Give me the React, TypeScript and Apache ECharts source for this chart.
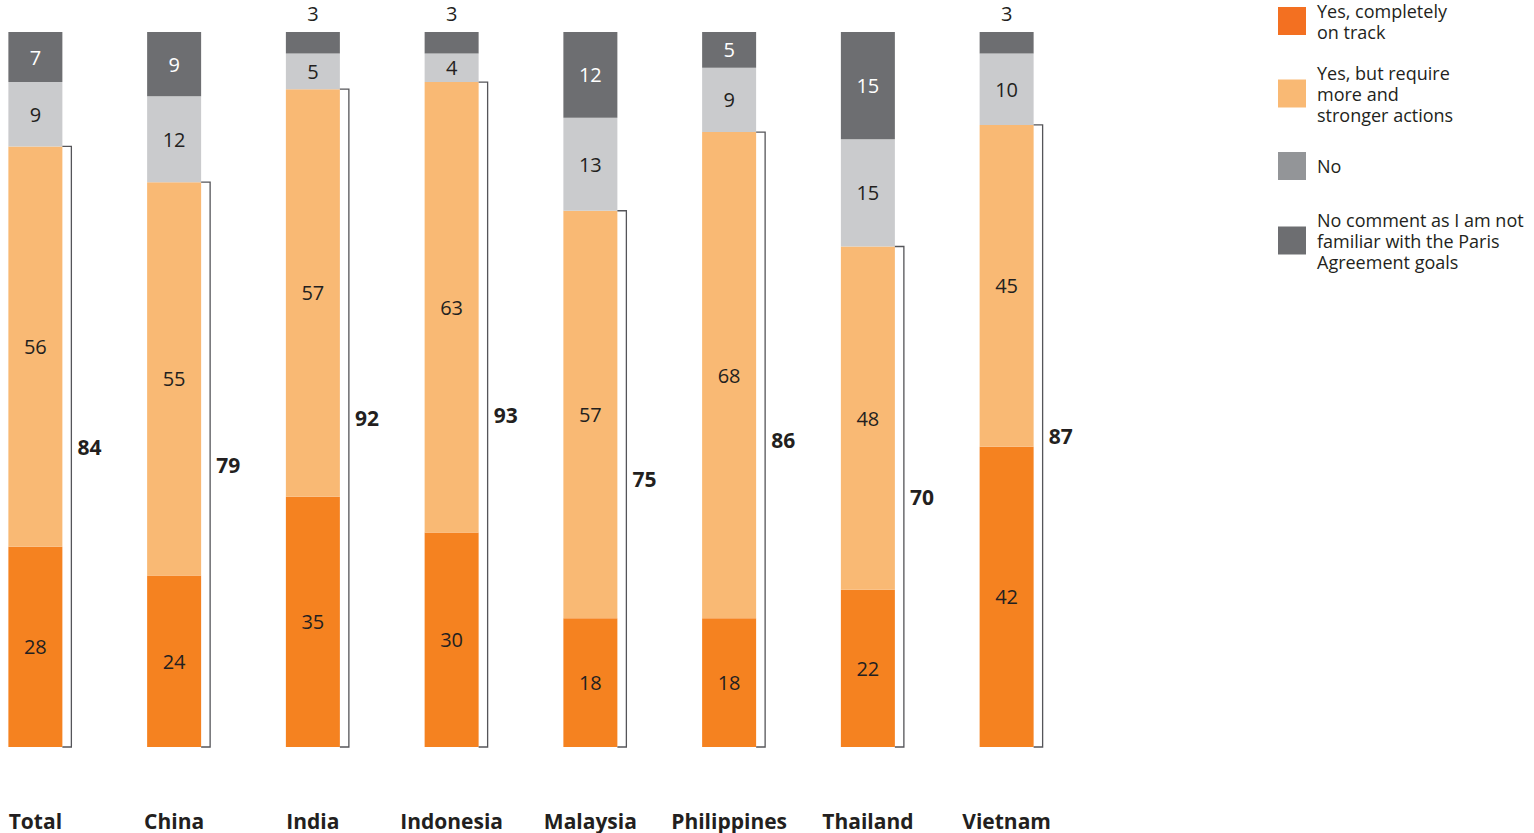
import React, { useEffect, useRef } from "react";
import * as echarts from "echarts";

const categories = ["Total", "China", "India", "Indonesia", "Malaysia", "Philippines", "Thailand", "Vietnam"];
const seriesNames = [
  "Yes, completely\non track",
  "Yes, but require\nmore and\nstronger actions",
  "No",
  "No comment as I am not\nfamiliar with the Paris\nAgreement goals",
];
const yesOnTrack = [28, 24, 35, 30, 18, 18, 22, 42];
const yesMore = [56, 55, 57, 63, 57, 68, 48, 45];
const no = [9, 12, 5, 4, 13, 9, 15, 10];
const noComment = [7, 9, 3, 3, 12, 5, 15, 3];

const barColors = ["#F58220", "#F9B974", "#CACBCD", "#6D6E71"];
const legendColors = ["#F37021", "#F9B974", "#939598", "#6D6E71"];
const legendTops = [0, 62, 152, 209];

const FONT = "'Open Sans', Lato, sans-serif";
const TEXT = "#231F20";
const SHIFT = 34;

export default function App() {
  const ref = useRef<HTMLDivElement>(null);
  useEffect(() => {
    if (!ref.current) return;
    const chart = echarts.init(ref.current, null, { renderer: "svg" });
    const BAR_W = 54;
    const values = [yesOnTrack, yesMore, no, noComment];

    const barSeries = values.map((arr, si) => ({
      name: seriesNames[si],
      type: "bar",
      stack: "all",
      barWidth: BAR_W,
      itemStyle: { color: barColors[si] },
      label: {
        show: true,
        position: "inside",
        fontFamily: FONT,
        fontSize: 20,
        color: si === 3 ? "#FFFFFF" : TEXT,
      },
      data: arr.map((v) =>
        si === 3 && v < 4
          ? { value: v, label: { position: "top", distance: 9, color: TEXT } }
          : v
      ),
    }));

    const bracketData = categories.map((_, i) => [i, yesOnTrack[i] + yesMore[i]]);

    const bracketSeries = {
      type: "custom",
      silent: true,
      data: bracketData,
      encode: { x: 0, y: 1 },
      renderItem: (params: any, api: any) => {
        const idx = api.value(0);
        const total = api.value(1);
        const p0 = api.coord([idx, 0]);
        const p1 = api.coord([idx, total]);
        const x0 = p0[0] + BAR_W / 2;
        const x1 = x0 + 9;
        return {
          type: "group",
          children: [
            {
              type: "polyline",
              shape: { points: [[x0, p1[1]], [x1, p1[1]], [x1, p0[1]], [x0, p0[1]]] },
              style: { stroke: "#555559", lineWidth: 1.3, fill: null },
            },
            {
              type: "text",
              x: x1 + 6,
              y: (p0[1] + p1[1]) / 2,
              style: {
                text: String(total),
                fontFamily: FONT,
                fontSize: 21,
                fontWeight: "bold",
                fill: TEXT,
                verticalAlign: "middle",
                align: "left",
              },
            },
          ],
        };
      },
      z: 5,
    };

    const option: any = {
      animation: false,
      backgroundColor: "#FFFFFF",
      grid: { left: 0, top: 32, width: 1110, height: 715 },
      legend: seriesNames.map((n, i) => ({
        show: true,
        left: 1278 + SHIFT,
        top: legendTops[i],
        padding: 0,
        orient: "vertical",
        icon: "rect",
        itemWidth: 28,
        itemHeight: 28,
        selectedMode: false,
        data: [{ name: n, itemStyle: { color: legendColors[i] } }],
        textStyle: {
          fontFamily: FONT,
          fontSize: 18,
          lineHeight: 21,
          color: TEXT,
          padding: [0, 0, 0, 6],
        },
      })),
      xAxis: {
        type: "category",
        data: categories,
        axisLine: { show: false },
        axisTick: { show: false },
        axisLabel: {
          interval: 0,
          margin: 63,
          fontFamily: FONT,
          fontSize: 21,
          fontWeight: "bold",
          color: TEXT,
        },
      },
      yAxis: {
        type: "value",
        min: 0,
        max: 100,
        show: false,
        splitLine: { show: false },
      },
      series: [...barSeries, bracketSeries],
    };
    chart.setOption(option);
    return () => chart.dispose();
  }, []);
  return (
    <div
      ref={ref}
      style={{ position: "fixed", left: -SHIFT, top: 0, width: 1534 + SHIFT, height: 833, background: "#fff" }}
    />
  );
}
